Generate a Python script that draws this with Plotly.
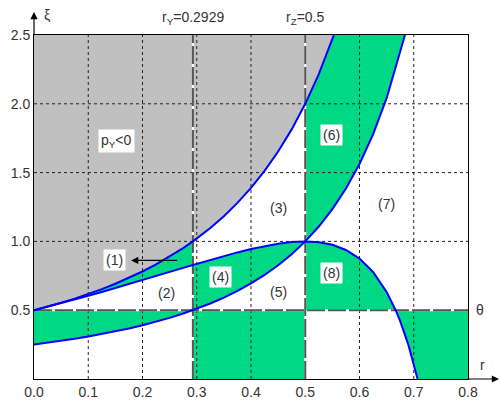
import plotly.graph_objects as go

# ---- key constants of the diagram ----
r_Y = 0.2929
r_Z = 0.5
theta = 0.5
r_max = 0.8
xi_max = 2.5

x_ticks = [0.0, 0.1, 0.2, 0.3, 0.4, 0.5, 0.6, 0.7, 0.8]
x_tick_labels = ["0.0", "0.1", "0.2", "0.3", "0.4", "0.5", "0.6", "0.7", "0.8"]
y_ticks = [0.5, 1.0, 1.5, 2.0, 2.5]
y_tick_labels = ["0.5", "1.0", "1.5", "2.0", "2.5"]

# upper curve (p_Y = 0 boundary)
r_up = [0.0, 0.025, 0.05, 0.075, 0.1, 0.125, 0.15, 0.175, 0.2, 0.225, 0.25, 0.275,
        0.2929, 0.3, 0.325, 0.35, 0.375, 0.4, 0.425, 0.45, 0.475, 0.5, 0.525, 0.5528]
xi_up = [0.5, 0.526, 0.554, 0.5844, 0.6173, 0.6531, 0.692, 0.7346, 0.7813, 0.8325, 0.8889, 0.9512,
         1.0, 1.0204, 1.0974, 1.1834, 1.28, 1.3889, 1.5123, 1.6529, 1.8141, 2.0, 2.2161, 2.5]

# lower curve
r_lo = [0.0, 0.025, 0.05, 0.075, 0.1, 0.125, 0.15, 0.175, 0.2, 0.225, 0.25, 0.275,
        0.2929, 0.3, 0.325, 0.35, 0.375, 0.4, 0.425, 0.45, 0.475, 0.5, 0.525, 0.55,
        0.575, 0.6, 0.625, 0.65, 0.675, 0.6838]
xi_lo = [0.25, 0.263, 0.277, 0.2922, 0.3086, 0.3265, 0.346, 0.3673, 0.3906, 0.4162, 0.4444, 0.4756,
         0.5, 0.5102, 0.5487, 0.5917, 0.64, 0.6944, 0.7561, 0.8264, 0.907, 1.0, 1.108, 1.2346,
         1.3841, 1.5625, 1.7778, 2.0408, 2.3669, 2.5]

# hump curve
r_hump = [0.0, 0.025, 0.05, 0.075, 0.1, 0.125, 0.15, 0.175, 0.2, 0.225, 0.25, 0.275,
          0.2929, 0.3, 0.325, 0.35, 0.375, 0.4, 0.425, 0.45, 0.475, 0.5, 0.525, 0.55,
          0.575, 0.6, 0.625, 0.65, 0.6667, 0.675, 0.69, 0.7, 0.7071]
xi_hump = [0.5, 0.5253, 0.5512, 0.5778, 0.6049, 0.6327, 0.6609, 0.6896, 0.7188, 0.7482, 0.7778, 0.8074,
           0.8284, 0.8367, 0.8656, 0.8935, 0.92, 0.9444, 0.966, 0.9835, 0.9955, 1.0, 0.9945, 0.9753,
           0.9377, 0.875, 0.7778, 0.6327, 0.5, 0.4201, 0.2487, 0.1111, 0.0]

GREEN = "#00D884"
GRAY = "#C0C0C0"
TXT = "#333333"
FONT = "Liberation Sans, Arial, sans-serif"


def seg(rs, xs, a, b):
    px, py = [], []
    for r, x in zip(rs, xs):
        if a - 1e-6 <= r <= b + 1e-6:
            px.append(r)
            py.append(x)
    return px, py


fig = go.Figure()


def poly(px, py, color):
    fig.add_trace(go.Scatter(x=px, y=py, fill="toself", fillcolor=color, mode="lines",
                             line=dict(width=0, color=color), hoverinfo="skip", showlegend=False))


# gray region p_Y < 0
ux, uy = seg(r_up, xi_up, 0, 1)
poly(ux + [0.0], uy + [xi_max], GRAY)

# green regions
ax_, ay_ = seg(r_up, xi_up, 0, r_Y)
bx_, by_ = seg(r_hump, xi_hump, 0, r_Y)
poly(ax_ + bx_[::-1], ay_ + by_[::-1], GREEN)
lx, ly = seg(r_lo, xi_lo, 0, r_Y)
poly([0.0, r_Y] + lx[::-1], [theta, theta] + ly[::-1], GREEN)
hx, hy = seg(r_hump, xi_hump, r_Y, r_Z)
lx, ly = seg(r_lo, xi_lo, r_Y, r_Z)
poly(hx + lx[::-1], hy + ly[::-1], GREEN)
poly([r_Y, r_Z, r_Z, r_Y], [0, 0, theta, theta], GREEN)
ux, uy = seg(r_up, xi_up, r_Z, 1)
lx, ly = seg(r_lo, xi_lo, r_Z, 1)
poly(ux + lx[::-1], uy + ly[::-1], GREEN)
hx, hy = seg(r_hump, xi_hump, r_Z, 0.6667)
poly(hx + [r_Z], hy + [theta], GREEN)
hx, hy = seg(r_hump, xi_hump, 0.6667, 1)
poly(hx + [r_max, r_max], hy + [0, theta], GREEN)

# grid (dotted)
gx, gy = [], []
for t in x_ticks[1:-1]:
    gx += [t, t, None]
    gy += [0, xi_max, None]
for t in y_ticks[:-1]:
    gx += [0, r_max, None]
    gy += [t, t, None]
fig.add_trace(go.Scatter(x=gx, y=gy, mode="lines", line=dict(color="#222222", width=1, dash="3px,3px"),
                         hoverinfo="skip", showlegend=False))

# long dashed reference lines
dx = [r_Y, r_Y, None, r_Z, r_Z, None, 0, r_max]
dy = [0, xi_max, None, 0, xi_max, None, theta, theta]
fig.add_trace(go.Scatter(x=dx, y=dy, mode="lines", line=dict(color="white", width=2),
                         hoverinfo="skip", showlegend=False))
fig.add_trace(go.Scatter(x=dx, y=dy, mode="lines", line=dict(color="#555555", width=2, dash="18px,3px"),
                         hoverinfo="skip", showlegend=False))

# blue curves
for xs, ys in [(r_up, xi_up), (r_lo, xi_lo), (r_hump, xi_hump)]:
    fig.add_trace(go.Scatter(x=xs, y=ys, mode="lines", line=dict(color="#0000FF", width=2),
                             hoverinfo="skip", showlegend=False))

W, H = 501, 400
ML, MR, MT, MB = 34, 33, 35, 21
PW, PH = W - ML - MR, H - MT - MB

ann = []
ann.append(dict(xref="paper", yref="paper", x=0, y=1 + 23 / PH, ax=0, ay=24, showarrow=True,
                arrowhead=2, arrowsize=1.2, arrowwidth=1.2, arrowcolor="black", text=""))
ann.append(dict(xref="paper", yref="paper", x=1 + 31 / PW, y=0, ax=-32, ay=0, showarrow=True,
                arrowhead=2, arrowsize=1.2, arrowwidth=1.2, arrowcolor="black", text=""))
ann.append(dict(xref="paper", yref="paper", x=13 / PW, y=1 + 20 / PH, text="ξ", showarrow=False,
                xanchor="center", yanchor="middle", font=dict(size=14, color=TXT, family=FONT)))
ann.append(dict(xref="paper", yref="paper", x=1 + 15 / PW, y=14 / PH, text="r", showarrow=False,
                xanchor="center", yanchor="middle", font=dict(size=14, color=TXT, family=FONT)))
ann.append(dict(xref="paper", yref="y", x=1 + 12 / PW, y=theta, text="θ", showarrow=False,
                xanchor="center", yanchor="middle", font=dict(size=14, color=TXT, family=FONT)))
ann.append(dict(xref="x", yref="paper", x=r_Y, y=1 + 17 / PH, text="r<sub>Y</sub>=0.2929", showarrow=False,
                xanchor="center", yanchor="middle", font=dict(size=14, color=TXT, family=FONT)))
ann.append(dict(xref="x", yref="paper", x=r_Z, y=1 + 17 / PH, text="r<sub>Z</sub>=0.5", showarrow=False,
                xanchor="center", yanchor="middle", font=dict(size=14, color=TXT, family=FONT)))

labels = [("p<sub>Y</sub><0", 0.152, 1.73, True),
          ("(1)", 0.148, 0.865, True),
          ("(2)", 0.245, 0.627, False),
          ("(3)", 0.45, 1.24, False),
          ("(4)", 0.343, 0.74, True),
          ("(5)", 0.45, 0.63, False),
          ("(6)", 0.548, 1.77, True),
          ("(7)", 0.649, 1.27, False),
          ("(8)", 0.548, 0.77, True)]
for t, x, y, box in labels:
    ann.append(dict(xref="x", yref="y", x=x, y=y, text=t, showarrow=False, xanchor="center",
                    yanchor="middle", bgcolor="white" if box else None, borderpad=2,
                    font=dict(size=14, color=TXT, family=FONT)))
ann.append(dict(xref="x", yref="y", axref="x", ayref="y", x=0.179, y=0.862, ax=0.267, ay=0.862,
                text="", showarrow=True, arrowhead=2, arrowsize=1.2, arrowwidth=1.2, arrowcolor="black"))

fig.update_layout(
    width=W, height=H, margin=dict(l=ML, r=MR, t=MT, b=MB, autoexpand=False),
    paper_bgcolor="white", plot_bgcolor="white", showlegend=False,
    annotations=ann,
    xaxis=dict(range=[0, r_max], tickvals=x_ticks, ticktext=x_tick_labels, showgrid=False, zeroline=False,
               showline=True, linecolor="black", linewidth=1, mirror=True, ticks="", automargin=False,
               tickfont=dict(size=14, color=TXT, family=FONT), fixedrange=True),
    yaxis=dict(range=[0, xi_max], tickvals=y_ticks, ticktext=y_tick_labels, showgrid=False, zeroline=False,
               showline=True, linecolor="black", linewidth=1, mirror=True, ticks="", automargin=False,
               tickfont=dict(size=14, color=TXT, family=FONT), fixedrange=True),
)

fig.write_html("out.html", config={"displayModeBar": False},
               post_script="document.body.style.margin='0';document.body.style.overflow='hidden';")
